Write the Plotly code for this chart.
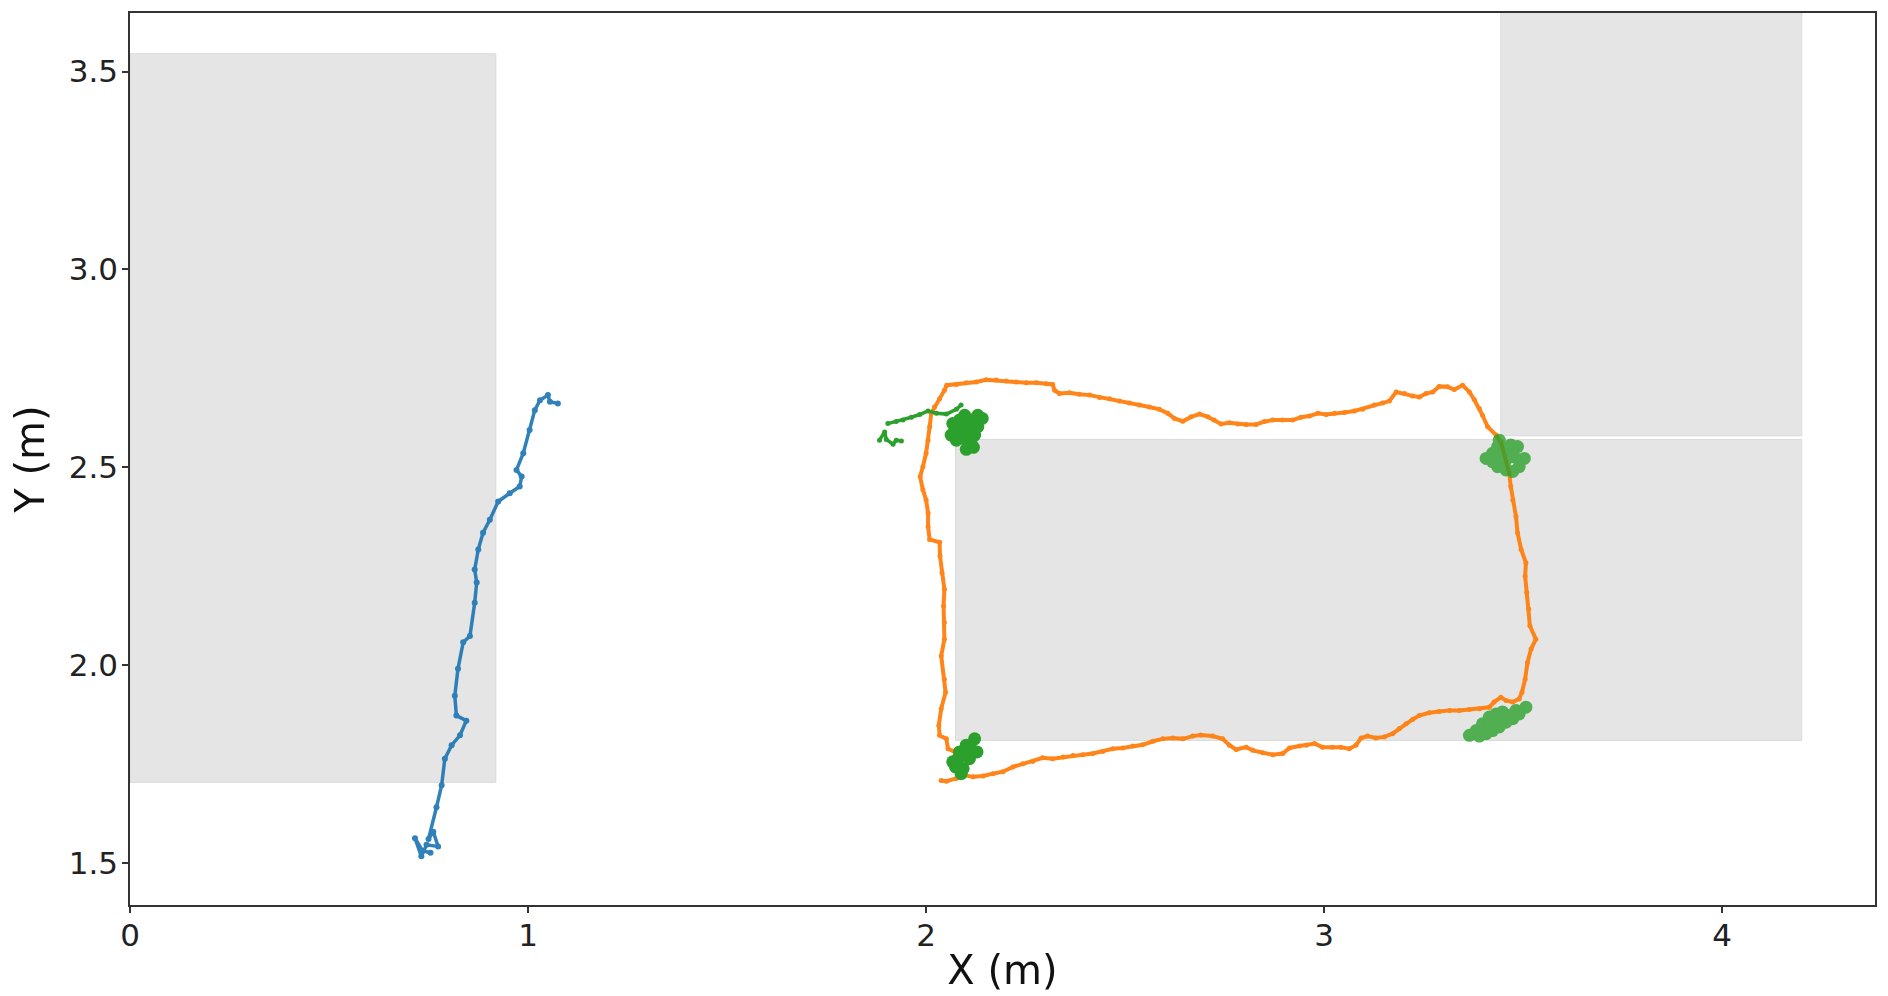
import plotly.graph_objects as go

# ---------------- data (metres) ----------------
blue_x = [0.755, 0.735, 0.716, 0.732, 0.745, 0.774, 0.762, 0.750, 0.770, 0.783, 0.791, 0.808,
          0.829, 0.845, 0.820, 0.816, 0.824, 0.837, 0.854, 0.866, 0.871, 0.866, 0.875, 0.887,
          0.904, 0.925, 0.954, 0.979, 0.984, 0.971, 0.988, 1.004, 1.017, 1.030, 1.050, 1.055, 1.075]
blue_y = [1.525, 1.530, 1.562, 1.516, 1.545, 1.541, 1.578, 1.560, 1.640, 1.696, 1.763, 1.797,
          1.822, 1.859, 1.872, 1.922, 1.990, 2.057, 2.073, 2.157, 2.208, 2.241, 2.292, 2.334,
          2.367, 2.413, 2.434, 2.451, 2.476, 2.493, 2.535, 2.594, 2.644, 2.669, 2.682, 2.665, 2.661]

orange_x = [2.038, 2.051, 2.076, 2.097, 2.118, 2.143, 2.168, 2.193, 2.218, 2.243, 2.268, 2.293,
            2.318, 2.344, 2.369, 2.394, 2.419, 2.444, 2.469, 2.494, 2.519, 2.544, 2.570, 2.595,
            2.620, 2.645, 2.670, 2.690, 2.720, 2.745, 2.762, 2.779, 2.804, 2.821, 2.846, 2.871,
            2.896, 2.913, 2.938, 2.955, 2.976, 2.996, 3.021, 3.042, 3.063, 3.080, 3.093, 3.109,
            3.130, 3.151, 3.172, 3.189, 3.206, 3.222, 3.239, 3.264, 3.289, 3.315, 3.340, 3.365,
            3.390, 3.415, 3.427, 3.444, 3.457, 3.474, 3.490, 3.497, 3.505, 3.511, 3.520, 3.532,
            3.517, 3.514, 3.509, 3.505, 3.507, 3.495, 3.486, 3.482, 3.474, 3.469, 3.465, 3.444,
            3.432, 3.411, 3.398, 3.390, 3.377, 3.365, 3.348, 3.327, 3.310, 3.289, 3.273, 3.256,
            3.239, 3.222, 3.202, 3.181, 3.164, 3.147, 3.126, 3.097, 3.076, 3.051, 3.026, 3.005,
            2.984, 2.963, 2.942, 2.921, 2.896, 2.871, 2.850, 2.829, 2.804, 2.783, 2.762, 2.741,
            2.724, 2.708, 2.687, 2.666, 2.645, 2.624, 2.607, 2.586, 2.561, 2.536, 2.511, 2.486,
            2.461, 2.436, 2.411, 2.385, 2.360, 2.335, 2.323, 2.318, 2.302, 2.277, 2.252, 2.226,
            2.201, 2.176, 2.151, 2.126, 2.101, 2.076, 2.052, 2.046, 2.034, 2.021, 2.013, 2.009,
            2.005, 2.000, 1.992, 1.985, 1.992, 2.000, 2.005, 2.005, 2.009, 2.034, 2.035, 2.040,
            2.046, 2.044, 2.046, 2.046, 2.038, 2.046, 2.049, 2.038, 2.032, 2.034, 2.051, 2.055, 2.072]
orange_y = [1.708, 1.706, 1.713, 1.721, 1.717, 1.719, 1.725, 1.730, 1.742, 1.750, 1.756, 1.765,
            1.763, 1.767, 1.771, 1.773, 1.776, 1.781, 1.788, 1.790, 1.795, 1.798, 1.807, 1.813,
            1.815, 1.813, 1.820, 1.823, 1.820, 1.813, 1.797, 1.786, 1.792, 1.784, 1.778, 1.773,
            1.776, 1.790, 1.795, 1.797, 1.801, 1.792, 1.792, 1.792, 1.788, 1.797, 1.815, 1.820,
            1.815, 1.818, 1.826, 1.839, 1.851, 1.862, 1.872, 1.879, 1.882, 1.885, 1.885, 1.887,
            1.889, 1.893, 1.906, 1.918, 1.910, 1.906, 1.914, 1.931, 1.964, 2.006, 2.040, 2.065,
            2.099, 2.141, 2.183, 2.224, 2.258, 2.292, 2.334, 2.375, 2.417, 2.451, 2.485, 2.564,
            2.581, 2.602, 2.631, 2.648, 2.671, 2.690, 2.707, 2.696, 2.703, 2.704, 2.690, 2.686,
            2.677, 2.680, 2.686, 2.690, 2.667, 2.662, 2.657, 2.646, 2.642, 2.638, 2.636, 2.633,
            2.636, 2.629, 2.626, 2.619, 2.619, 2.619, 2.615, 2.608, 2.608, 2.609, 2.612, 2.609,
            2.619, 2.627, 2.634, 2.627, 2.616, 2.623, 2.636, 2.646, 2.652, 2.657, 2.662, 2.667,
            2.673, 2.676, 2.682, 2.684, 2.688, 2.686, 2.694, 2.709, 2.711, 2.713, 2.713, 2.715,
            2.718, 2.720, 2.721, 2.715, 2.713, 2.709, 2.707, 2.694, 2.673, 2.652, 2.636, 2.602,
            2.568, 2.535, 2.501, 2.476, 2.443, 2.417, 2.384, 2.350, 2.317, 2.310, 2.275, 2.233,
            2.191, 2.149, 2.107, 2.065, 2.023, 1.964, 1.931, 1.889, 1.847, 1.822, 1.813, 1.788, 1.780]

green_trail_x = [1.883, 1.896, 1.900, 1.917, 1.925, 1.938, None,
                 1.904, 1.925, 1.942, 1.963, 1.984, 2.005, 2.026, 2.051, 2.076, 2.088]
green_trail_y = [2.568, 2.589, 2.570, 2.558, 2.568, 2.566, None,
                 2.610, 2.615, 2.619, 2.626, 2.633, 2.642, 2.636, 2.634, 2.646, 2.657]

green_left_x = [2.067, 2.063, 2.079, 2.084, 2.097, 2.101, 2.092, 2.109, 2.117, 2.130, 2.141,
                2.130, 2.122, 2.113, 2.101, 2.119, 2.076,
                2.067, 2.084, 2.101, 2.122, 2.128, 2.109, 2.093, 2.088, 2.074, 2.099, 2.113, 2.080]
green_left_y = [2.610, 2.581, 2.594, 2.619, 2.631, 2.602, 2.573, 2.589, 2.619, 2.631, 2.623,
                2.602, 2.581, 2.560, 2.545, 2.550, 2.568,
                1.755, 1.780, 1.797, 1.813, 1.780, 1.763, 1.738, 1.725, 1.742, 1.771, 1.788, 1.763]

green_right_x = [3.407, 3.423, 3.436, 3.440, 3.457, 3.469, 3.486, 3.503, 3.490, 3.474, 3.457,
                 3.436, 3.423, 3.457, 3.478, 3.444,
                 3.365, 3.382, 3.398, 3.415, 3.432, 3.448, 3.465, 3.482, 3.507, 3.490, 3.474,
                 3.457, 3.440, 3.423, 3.407, 3.390, 3.419, 3.440]
green_right_y = [2.522, 2.535, 2.552, 2.568, 2.543, 2.556, 2.552, 2.522, 2.501, 2.489, 2.493,
                 2.501, 2.514, 2.518, 2.526, 2.526,
                 1.822, 1.834, 1.851, 1.868, 1.876, 1.881, 1.872, 1.885, 1.893, 1.876, 1.864,
                 1.855, 1.843, 1.834, 1.826, 1.820, 1.851, 1.864]

# obstacles: [x0, x1, y0, y1]
obstacle_x0 = [0.000, 2.074, 3.444]
obstacle_x1 = [0.919, 4.200, 4.200]
obstacle_y0 = [1.703, 1.809, 2.579]
obstacle_y1 = [3.545, 2.570, 3.660]

x_ticks = [0, 1, 2, 3, 4]
x_tick_labels = ["0", "1", "2", "3", "4"]
y_ticks = [1.5, 2.0, 2.5, 3.0, 3.5]
y_tick_labels = ["1.5", "2.0", "2.5", "3.0", "3.5"]

# ---------------- figure ----------------
fig = go.Figure()

for x0, x1, y0, y1 in zip(obstacle_x0, obstacle_x1, obstacle_y0, obstacle_y1):
    fig.add_shape(type="rect", xref="x", yref="y", x0=x0, x1=x1, y0=y0, y1=y1,
                  fillcolor="rgba(229,229,229,1)", line=dict(color="rgba(218,218,218,1)", width=1),
                  layer="below")

fig.add_trace(go.Scatter(x=blue_x, y=blue_y, mode="lines+markers",
                         line=dict(color="#1f77b4", width=3.5),
                         marker=dict(color="#1f77b4", size=6), opacity=0.92))
fig.add_trace(go.Scatter(x=orange_x, y=orange_y, mode="lines+markers",
                         line=dict(color="#ff7f0e", width=4),
                         marker=dict(color="#ff7f0e", size=5), opacity=0.95))
fig.add_trace(go.Scatter(x=green_trail_x, y=green_trail_y, mode="lines+markers",
                         line=dict(color="#2ca02c", width=3.5),
                         marker=dict(color="#2ca02c", size=5), connectgaps=False))
fig.add_trace(go.Scatter(x=green_left_x, y=green_left_y, mode="markers",
                         marker=dict(color="#2ca02c", size=13)))
fig.add_trace(go.Scatter(x=green_right_x, y=green_right_y, mode="markers",
                         marker=dict(color="#2ca02c", size=13), opacity=0.8))

axis_common = dict(showgrid=False, zeroline=False, showline=True, mirror=True,
                   linecolor="#333333", linewidth=1.5, ticks="outside", ticklen=6,
                   tickwidth=1.5, tickcolor="#333333",
                   tickfont=dict(family="DejaVu Sans", size=31, color="#222222"))

fig.update_layout(
    width=1888, height=996,
    margin=dict(l=130, r=12, t=11, b=89),
    paper_bgcolor="white", plot_bgcolor="white",
    showlegend=False,
    xaxis=dict(range=[0, 4.384], tickvals=x_ticks, ticktext=x_tick_labels,
               ticklabelstandoff=-4,
               title=dict(text="X (m)", font=dict(family="DejaVu Sans", size=40, color="#111111"),
                          standoff=4),
               **axis_common),
    yaxis=dict(range=[1.393, 3.648], tickvals=y_ticks, ticktext=y_tick_labels,
               ticklabelstandoff=-2,
               title=dict(text="Y (m)", font=dict(family="DejaVu Sans", size=40, color="#111111"),
                          standoff=12),
               **axis_common),
)

fig.write_html("out.html")
